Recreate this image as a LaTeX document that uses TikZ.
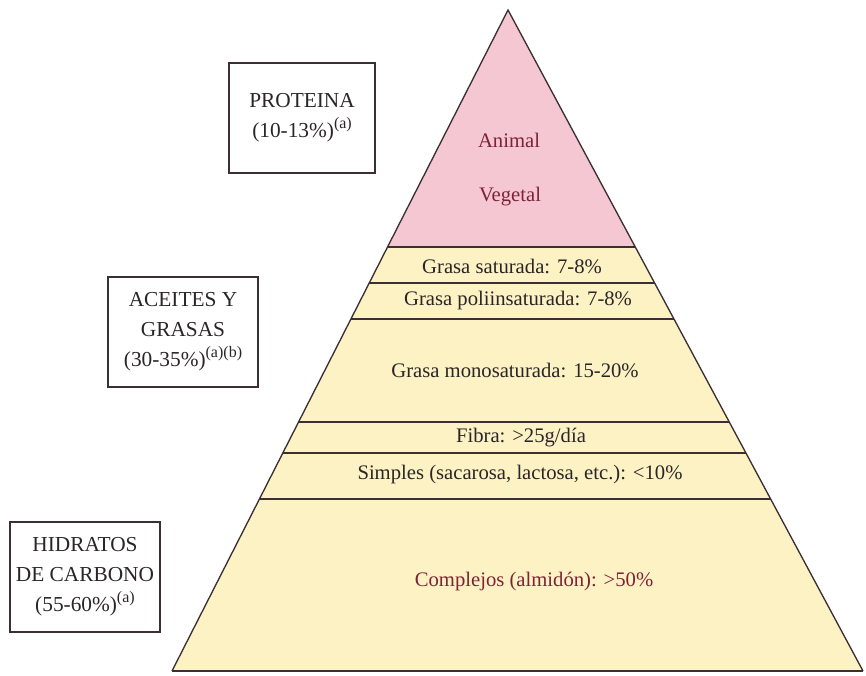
\documentclass[tikz,border=0pt]{standalone}
\usepackage{fontspec}
\setmainfont{Liberation Serif}
\usetikzlibrary{calc}
\definecolor{ink}{HTML}{2A2527}
\definecolor{wine}{HTML}{7E2236}
\definecolor{pinkbg}{HTML}{F4C7D3}
\definecolor{creambg}{HTML}{FDF2C4}
\definecolor{edge}{HTML}{3B2F33}
\newcommand{\noteref}[1]{\raisebox{0.42em}{\fontsize{12}{12}\selectfont #1}}

\begin{document}
\begin{tikzpicture}[x=0.75pt,y=-0.75pt,
  every node/.style={font=\fontsize{15.5}{22}\selectfont, text=ink},
  group/.style={rectangle, draw=edge, line width=1.6pt, align=center, inner sep=0pt,
    font=\fontsize{16}{22.5}\selectfont},
  band/.style={draw=edge, line width=0.9pt},
  tag/.style={align=center, inner sep=1pt}
]
\useasboundingbox (0,0) rectangle (866,675);
\coordinate (apex) at (508,10);
\coordinate (bl) at (172,671);
\coordinate (br) at (863,671);
% band borders on both sides of the pyramid
\foreach \t [count=\i] in {0.3585,0.4130,0.4675,0.6233,0.6702,0.7398}{
  \coordinate (l\i) at ($(apex)!\t!(bl)$);
  \coordinate (r\i) at ($(apex)!\t!(br)$);
}
\fill[pinkbg] (apex) -- (l1) -- (r1) -- cycle;
\fill[creambg] (l1) -- (bl) -- (br) -- (r1) -- cycle;
\foreach \i in {1,...,6}{\draw[band] (l\i) -- (r\i);}
\draw[edge, line width=1pt] (bl) -- (apex) -- (br);
\draw[band] (bl) -- (br);

% pyramid texts
\node[tag, text=wine] (animal) at (509,140) {Animal};
\node[tag, text=wine] (vegetal) at (510,197) {Vegetal};
\node[tag] (saturada) at (512,266) {Grasa saturada: 7-8\%};
\node[tag] (poli) at (518,301) {Grasa poliinsaturada: 7-8\%};
\node[tag] (mono) at (515,370) {Grasa monosaturada: 15-20\%};
\node[tag] (fibra) at (521,438) {Fibra: >25g/día};
\node[tag] (simples) at (520,475) {Simples (sacarosa, lactosa, etc.): <10\%};
\node[tag, text=wine] (complejos) at (534,582) {Complejos (almidón): >50\%};

% side boxes
\node[group, minimum width=109.5pt, minimum height=82.5pt] (proteina) at (302,118)
  {PROTEINA\\(10-13\%)\noteref{(a)}};
\node[group, minimum width=112.5pt, minimum height=83pt] (aceites) at (183,332)
  {ACEITES Y\\GRASAS\\(30-35\%)\noteref{(a)(b)}};
\node[group, minimum width=112.5pt, minimum height=82pt] (hidratos) at (85,577)
  {HIDRATOS\\DE CARBONO\\(55-60\%)\noteref{(a)}};
\end{tikzpicture}
\end{document}
